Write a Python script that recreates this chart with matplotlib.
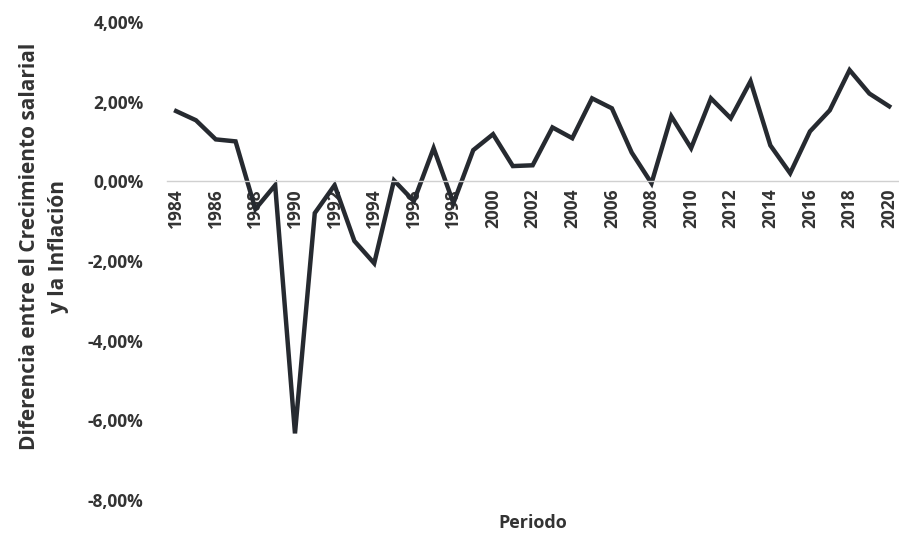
import numpy as np
import matplotlib.pyplot as plt
from matplotlib.ticker import FuncFormatter

# Años y diferencia (%) entre crecimiento salarial e inflación
years = np.arange(1984, 2021)
diff = [1.76, 1.53, 1.05, 1.00, -0.70, -0.10, -6.33, -0.80, -0.10, -1.50,
        -2.06, 0.02, -0.50, 0.83, -0.55, 0.78, 1.18, 0.38, 0.40, 1.35,
        1.08, 2.08, 1.83, 0.72, -0.05, 1.63, 0.83, 2.08, 1.58, 2.51,
        0.90, 0.20, 1.25, 1.78, 2.79, 2.20, 1.88]
tick_years = years[::2]

plt.rcParams['font.family'] = ['Open Sans', 'DejaVu Sans']

fig = plt.figure(figsize=(8.99, 5.33), dpi=100)
ax = fig.add_axes([0.186, 0.062, 0.813, 0.897])

ax.plot(years, diff, color='#262a30', linewidth=3.2, solid_joinstyle='miter')

ax.set_xlim(1983.55, 2020.45)
ax.set_ylim(-8, 4)
ax.set_yticks(np.arange(-8, 5, 2))
ax.yaxis.set_major_formatter(FuncFormatter(lambda v, p: f'{v:.2f}%'.replace('.', ',')))
ax.set_xticks(tick_years)
ax.set_xticklabels([str(y) for y in tick_years])

# eje x sobre la línea de cero
ax.spines['bottom'].set_position(('data', 0))
ax.spines['bottom'].set_color('#d0d0d0')
ax.spines['bottom'].set_linewidth(1)
for s in ['left', 'top', 'right']:
    ax.spines[s].set_visible(False)

ax.tick_params(axis='both', length=0, labelcolor='#333333')
ax.tick_params(axis='y', pad=17, labelsize=12.5)
ax.tick_params(axis='x', pad=5, labelsize=12.5, labelrotation=90)
for lab in ax.get_xticklabels() + ax.get_yticklabels():
    lab.set_fontweight('bold')

ax.set_ylabel('Diferencia entre el Crecimiento salarial\ny la Inflación',
              fontsize=15, fontweight='bold', color='#333333', linespacing=1.45)
ax.yaxis.set_label_coords(-0.135, 0.53)
ax.set_xlabel('Periodo', fontsize=13, fontweight='bold', color='#333333')
ax.xaxis.set_label_coords(0.5, -0.03)

fig.savefig('out.png', dpi=100)
